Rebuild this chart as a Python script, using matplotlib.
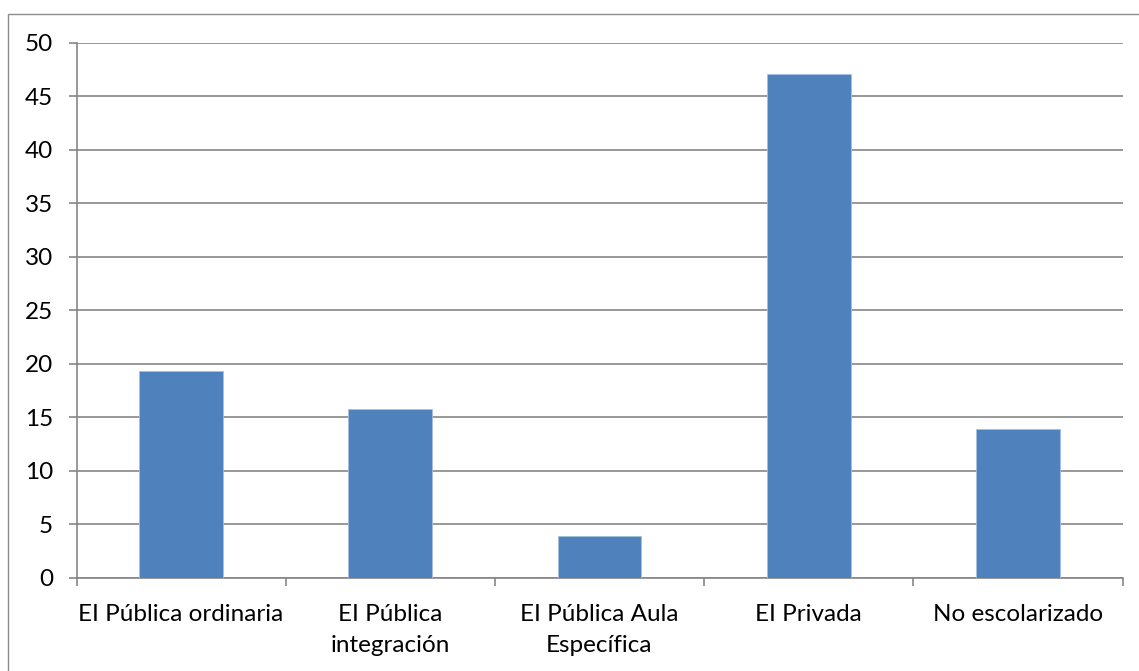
import matplotlib
matplotlib.use("Agg")
import matplotlib.pyplot as plt
from matplotlib.patches import Rectangle
import numpy as np

categories = ["EI Pública ordinaria", "EI Pública\nintegración", "EI Pública Aula\nEspecífica",
              "EI Privada", "No escolarizado"]
values = [19.3, 15.8, 3.9, 47.1, 13.9]
y_ticks = [0, 5, 10, 15, 20, 25, 30, 35, 40, 45, 50]

plt.rcParams['font.family'] = ['Lato', 'DejaVu Sans']

W, H = 1139, 671
fig = plt.figure(figsize=(W / 100, H / 100), dpi=100)
fig.patch.set_facecolor("white")

# chart-area frame
fig.patches.append(Rectangle((7.5 / W, -0.1), 1.2, (H - 13.5) / H + 0.1,
                             transform=fig.transFigure, fill=False,
                             edgecolor="#8c8c8c", linewidth=1.0))

ax = fig.add_axes([76.5 / W, 1 - 578 / H, (1122.5 - 76.5) / W, (578 - 42.5) / H])

grid_c = "#868686"
x = np.arange(len(categories))
ax.bar(x, values, width=0.4, color="#4F81BD", edgecolor="#a7bfdf", linewidth=0.6, zorder=3)

ax.set_xlim(-0.5, len(categories) - 0.5)
ax.set_ylim(0, 50)
ax.set_yticks(y_ticks)
ax.set_yticklabels([str(v) for v in y_ticks])
ax.yaxis.grid(True, color=grid_c, linewidth=1.2, zorder=0)
ax.set_axisbelow(True)

# category boundaries as tick marks, names centred between them
ax.set_xticks(np.arange(-0.5, len(categories), 1.0))
ax.set_xticklabels([])
ax.set_xticks(x, minor=True)
ax.set_xticklabels(categories, minor=True, fontsize=17.5, linespacing=1.6, color="black")
ax.tick_params(axis="x", which="major", length=6, width=1.2, color=grid_c, direction="out")
ax.tick_params(axis="x", which="minor", length=0, pad=18.5)
ax.tick_params(axis="y", length=6, width=1.2, color=grid_c, labelsize=17.5, pad=11,
               labelcolor="black")

for s in ["top", "right"]:
    ax.spines[s].set_visible(False)
for s in ["left", "bottom"]:
    ax.spines[s].set_color(grid_c)
    ax.spines[s].set_linewidth(1.2)

fig.savefig("out.png", dpi=100, facecolor="white")
